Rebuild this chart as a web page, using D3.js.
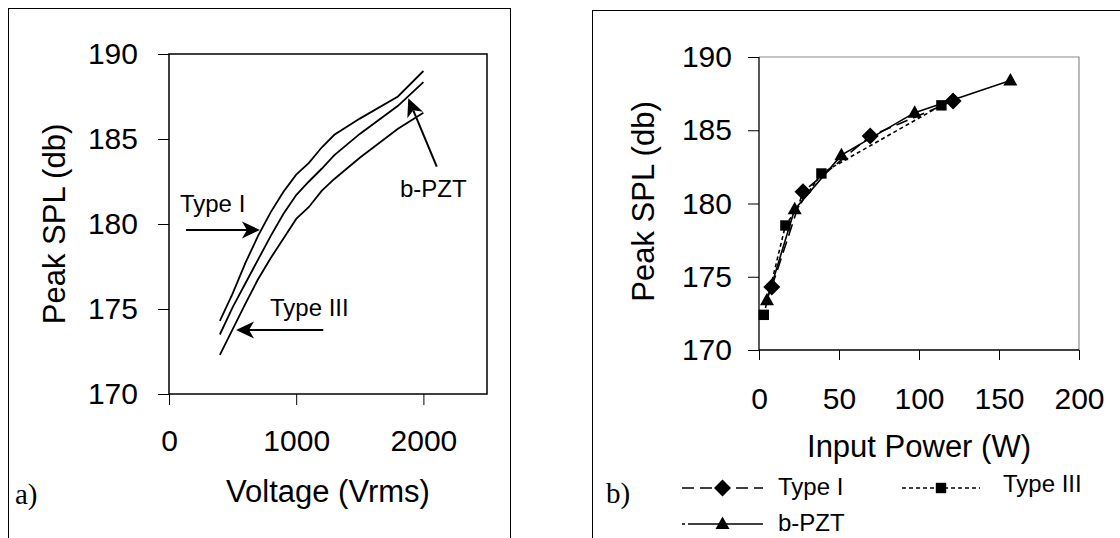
<!DOCTYPE html>
<html>
<head>
<meta charset="utf-8">
<script src="https://cdn.jsdelivr.net/npm/d3@7"></script>
<style>
  body { margin: 0; background: #fff; }
  svg text { font-family: "Liberation Sans", Arial, sans-serif; fill: #000; }
  .serif { font-family: "Liberation Serif", "Times New Roman", serif !important; }
</style>
</head>
<body>
<svg id="chart" width="1120" height="538"></svg>
<script>
// ---- panel a) : SPL vs drive voltage
const voltage   = [400, 500, 600, 700, 800, 900, 1000, 1100, 1200, 1300, 1500, 1800, 2000];
const splType1V = [174.3, 175.9, 177.7, 179.3, 180.7, 181.9, 182.9, 183.6, 184.5, 185.25, 186.2, 187.5, 189.0];
const splBpztV  = [173.5, 175.1, 176.5, 177.9, 179.3, 180.6, 181.7, 182.5, 183.25, 184.05, 185.3, 186.95, 188.35];
const splType3V = [172.3, 173.8, 175.3, 176.75, 178.0, 179.15, 180.3, 181.0, 181.95, 182.65, 183.9, 185.6, 186.55];

// ---- panel b) : SPL vs input power
const powerType1 = [8, 27.5, 69.5, 121.3];
const splType1P  = [174.3, 180.8, 184.6, 187.0];
const powerType3 = [3, 16.5, 39, 114];
const splType3P  = [172.4, 178.5, 182.05, 186.7];
const powerBpzt  = [5, 22.3, 51.5, 97.3, 157.1];
const splBpztP   = [173.4, 179.6, 183.3, 186.2, 188.4];

const splTicks   = [170, 175, 180, 185, 190];
const voltTicks  = [0, 1000, 2000];
const powerTicks = [0, 50, 100, 150, 200];

const svg = d3.select("#chart");
const tickFont = 30, labelFont = 31, noteFont = 24;

// outer frames of the two figure panels
svg.append("rect").attr("x", 8.5).attr("y", 8.5).attr("width", 502).attr("height", 560)
  .attr("fill", "none").attr("stroke", "#000").attr("stroke-width", 1);
svg.append("rect").attr("x", 592.5).attr("y", 10.5).attr("width", 600).attr("height", 560)
  .attr("fill", "none").attr("stroke", "#000").attr("stroke-width", 1);

// =================== panel a ===================
const xa = d3.scaleLinear().domain([0, 2500]).range([169, 487]);
const ya = d3.scaleLinear().domain([170, 190]).range([394, 54]);

const gA = svg.append("g");
gA.append("rect").attr("x", xa(0)).attr("y", ya(190))
  .attr("width", xa(2500) - xa(0)).attr("height", ya(170) - ya(190))
  .attr("fill", "none").attr("stroke", "#000").attr("stroke-width", 1.5);

gA.append("g").attr("transform", `translate(${xa(0)},0)`)
  .call(d3.axisLeft(ya).tickValues(splTicks).tickSize(11).tickPadding(20).tickSizeOuter(0))
  .call(g => g.select(".domain").remove())
  .call(g => g.selectAll("text").style("font-size", tickFont + "px"));
gA.append("g").attr("transform", `translate(0,${ya(170)})`)
  .call(d3.axisBottom(xa).tickValues(voltTicks).tickFormat(d3.format("d"))
    .tickSize(11).tickPadding(25).tickSizeOuter(0))
  .call(g => g.select(".domain").remove())
  .call(g => g.selectAll("text").style("font-size", tickFont + "px"));
gA.selectAll(".tick line").attr("stroke", "#000").attr("stroke-width", 1);

gA.append("text").attr("transform", "translate(65,224) rotate(-90)")
  .attr("text-anchor", "middle").style("font-size", labelFont + "px").text("Peak SPL (db)");
gA.append("text").attr("x", 328).attr("y", 502)
  .attr("text-anchor", "middle").style("font-size", labelFont + "px").text("Voltage (Vrms)");
gA.append("text").attr("class", "serif").attr("x", 15).attr("y", 504)
  .style("font-size", "29px").text("a)");

const lineA = d3.line().x(d => xa(d[0])).y(d => ya(d[1]));
[splType1V, splBpztV, splType3V].forEach(vals => {
  gA.append("path").datum(voltage.map((v, i) => [v, vals[i]]))
    .attr("d", lineA).attr("fill", "none").attr("stroke", "#000").attr("stroke-width", 1.8);
});

// annotation arrows (data coords)
function arrow(g, x0, y0, x1, y1) {
  const px0 = xa(x0), py0 = ya(y0), px1 = xa(x1), py1 = ya(y1);
  const ang = Math.atan2(py1 - py0, px1 - px0);
  const L = 18, W = 8.5, N = 13;
  g.append("line").attr("x1", px0).attr("y1", py0)
    .attr("x2", px1 - Math.cos(ang) * N).attr("y2", py1 - Math.sin(ang) * N)
    .attr("stroke", "#000").attr("stroke-width", 2);
  const c = Math.cos(ang), s = Math.sin(ang);
  const pt = (a, b) => [px1 + a * c - b * s, py1 + a * s + b * c];
  const pts = [pt(0, 0), pt(-L, -W), pt(-N, 0), pt(-L, W)];
  g.append("path").attr("d", "M" + pts.map(p => p.join(",")).join("L") + "Z").attr("fill", "#000");
}
arrow(gA, 134, 179.65, 715, 179.65);
arrow(gA, 1213, 173.76, 527, 173.76);
arrow(gA, 2105, 183.37, 1881, 187.39);

gA.append("text").attr("x", xa(86)).attr("y", ya(180.7)).style("font-size", noteFont + "px").text("Type I");
gA.append("text").attr("x", xa(794)).attr("y", ya(174.6)).style("font-size", noteFont + "px").text("Type III");
gA.append("text").attr("x", xa(1816)).attr("y", ya(181.6)).style("font-size", noteFont + "px").text("b-PZT");

// =================== panel b ===================
const xb = d3.scaleLinear().domain([0, 200]).range([759, 1079]);
const yb = d3.scaleLinear().domain([170, 190]).range([350, 57]);

const gB = svg.append("g");
gB.append("path")
  .attr("d", `M${xb(0)},${yb(190)}H${xb(200)}V${yb(170)}`)
  .attr("fill", "none").attr("stroke", "#8a8a8a").attr("stroke-width", 1.2);
gB.append("path")
  .attr("d", `M${xb(0)},${yb(190)}V${yb(170)}H${xb(200)}`)
  .attr("fill", "none").attr("stroke", "#000").attr("stroke-width", 1.3);

gB.append("g").attr("transform", `translate(${xb(0)},0)`)
  .call(d3.axisLeft(yb).tickValues(splTicks).tickSize(11).tickPadding(16).tickSizeOuter(0))
  .call(g => g.select(".domain").remove())
  .call(g => g.selectAll("text").style("font-size", tickFont + "px"));
gB.append("g").attr("transform", `translate(0,${yb(170)})`)
  .call(d3.axisBottom(xb).tickValues(powerTicks).tickSize(10).tickPadding(28).tickSizeOuter(0))
  .call(g => g.select(".domain").remove())
  .call(g => g.selectAll("text").style("font-size", tickFont + "px"));
gB.selectAll(".tick line").attr("stroke", "#000").attr("stroke-width", 1);

gB.append("text").attr("transform", "translate(654,201.5) rotate(-90)")
  .attr("text-anchor", "middle").style("font-size", labelFont + "px").text("Peak SPL (db)");
gB.append("text").attr("x", 919).attr("y", 457)
  .attr("text-anchor", "middle").style("font-size", labelFont + "px").text("Input Power (W)");
gB.append("text").attr("class", "serif").attr("x", 606).attr("y", 503)
  .style("font-size", "29px").text("b)");

const markers = {
  diamond: "M0,-8.5L8.5,0L0,8.5L-8.5,0Z",
  square: "M-5.2,-5.2H5.2V5.2H-5.2Z",
  triangle: "M0,-7.5L7,5L-7,5Z"
};
const seriesB = [
  { name: "Type I",   xs: powerType1, ys: splType1P, dash: "12,6", marker: "diamond" },
  { name: "Type III", xs: powerType3, ys: splType3P, dash: "4,3",  marker: "square" },
  { name: "b-PZT",    xs: powerBpzt,  ys: splBpztP,  dash: null,   marker: "triangle" }
];
const lineB = d3.line().x(d => xb(d[0])).y(d => yb(d[1]));
seriesB.forEach(s => {
  gB.append("path").datum(s.xs.map((x, i) => [x, s.ys[i]]))
    .attr("d", lineB).attr("fill", "none").attr("stroke", "#000").attr("stroke-width", 1.6)
    .attr("stroke-dasharray", s.dash);
});
seriesB.forEach(s => {
  gB.selectAll(null).data(s.xs.map((x, i) => [x, s.ys[i]])).enter().append("path")
    .attr("transform", d => `translate(${xb(d[0])},${yb(d[1])})`)
    .attr("d", markers[s.marker]).attr("fill", "#000");
});

// legend
const legendPos = [
  { x: 682, y: 488, tx: 778, ty: 495 },
  { x: 902, y: 488, tx: 1003, ty: 492 },
  { x: 682, y: 524, tx: 778, ty: 531 }
];
seriesB.forEach((s, i) => {
  const p = legendPos[i];
  const w = i === 1 ? 78 : 81;
  gB.append("line").attr("x1", p.x).attr("x2", p.x + w).attr("y1", p.y).attr("y2", p.y)
    .attr("stroke", "#000").attr("stroke-width", 1.6)
    .attr("stroke-dasharray", s.dash ? s.dash : "3,3,200");
  gB.append("path").attr("transform", `translate(${p.x + w / 2},${p.y})`)
    .attr("d", markers[s.marker]).attr("fill", "#000");
  gB.append("text").attr("x", p.tx).attr("y", p.ty).style("font-size", noteFont + "px").text(s.name);
});
</script>
</body>
</html>
